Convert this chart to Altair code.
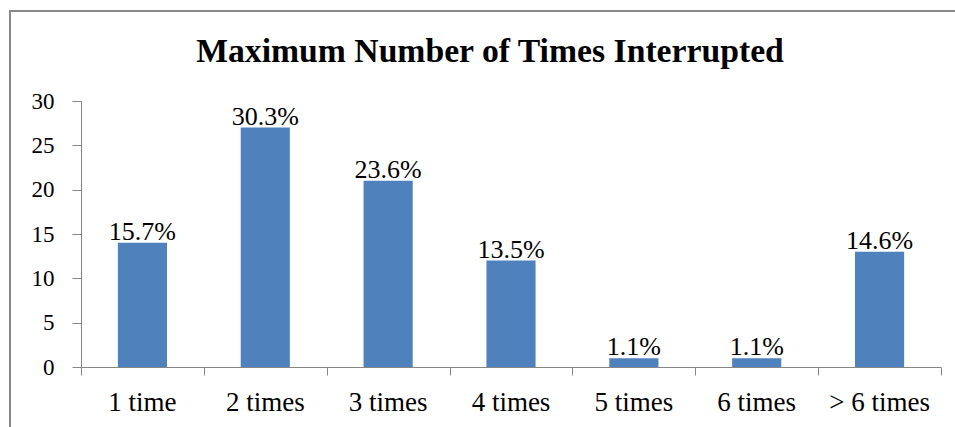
import altair as alt
import pandas as pd

# Interruption counts per respondent bucket
categories = ["1 time", "2 times", "3 times", "4 times", "5 times", "6 times", "> 6 times"]
counts = [14, 27, 21, 12, 1, 1, 13]
y_ticks = [0, 5, 10, 15, 20, 25, 30]

total = sum(counts)
df = pd.DataFrame({
    "category": categories,
    "count": counts,
    "slot": list(range(len(categories))),
    "label": [f"{c / total * 100:.1f}%" for c in counts],
})

FONT = "Liberation Serif"
BAR = "#4F81BD"
AXIS_GREY = "#868686"
FRAME_GREY = "#888888"

y_enc = alt.Y(
    "count:Q",
    scale=alt.Scale(domain=[0, 30], nice=False),
    axis=alt.Axis(
        title=None, values=y_ticks, grid=False,
        domainColor=AXIS_GREY, tickColor=AXIS_GREY, tickSize=9,
        labelFont=FONT, labelFontSize=23, labelColor="black", labelPadding=18,
    ),
)

band = alt.Scale(paddingInner=0.6, paddingOuter=0.3)
x_band = alt.X(
    "category:N", sort=categories, scale=band,
    axis=alt.Axis(
        title=None, orient="bottom", labelAngle=0, ticks=False, tickSize=0, domain=False,
        labelFont=FONT, labelFontSize=27, labelColor="black",
        labelPadding=43, labelBaseline="alphabetic",
    ),
)

bars = alt.Chart(df).mark_bar(color=BAR).encode(x=x_band, y=y_enc)

values = alt.Chart(df).mark_text(
    baseline="alphabetic", dy=-3, font=FONT, fontSize=26, color="black"
).encode(x=x_band, y=y_enc, text="label:N")

# Category boundaries: tick marks between the buckets along the baseline
boundaries = alt.Chart(df).mark_point(opacity=0).encode(
    x=alt.X(
        "slot:Q",
        scale=alt.Scale(domain=[0, len(categories)], nice=False, zero=False),
        axis=alt.Axis(
            title=None, orient="bottom", values=list(range(len(categories) + 1)),
            labels=False, grid=False, domainColor=AXIS_GREY, tickColor=AXIS_GREY,
            tickSize=8,
        ),
    ),
    y=y_enc,
)

frame_data = alt.Data(values=[{"k": 0}])
frame_left = alt.Chart(frame_data).mark_rule(color=FRAME_GREY, strokeWidth=2).encode(
    x=alt.value(-71), y=alt.value(-90), y2=alt.value(340)
)
frame_top = alt.Chart(frame_data).mark_rule(color=FRAME_GREY, strokeWidth=2).encode(
    x=alt.value(-72), x2=alt.value(900), y=alt.value(-90)
)

chart = alt.layer(
    alt.layer(bars, values),
    boundaries,
    frame_left,
    frame_top,
).resolve_scale(x="independent").properties(
    width=860,
    height=266,
    background="white",
    title=alt.TitleParams(
        "Maximum Number of Times Interrupted",
        font=FONT, fontSize=33.7, fontWeight="bold", color="black",
        anchor="middle", frame="group", dx=-21, baseline="alphabetic", offset=-86,
    ),
    autosize=alt.AutoSizeParams(type="none"),
    padding={"left": 81, "top": 101, "right": 14, "bottom": 60},
).configure_view(stroke=None)

chart.save("out.html", embed_options={"renderer": "svg", "actions": False})
